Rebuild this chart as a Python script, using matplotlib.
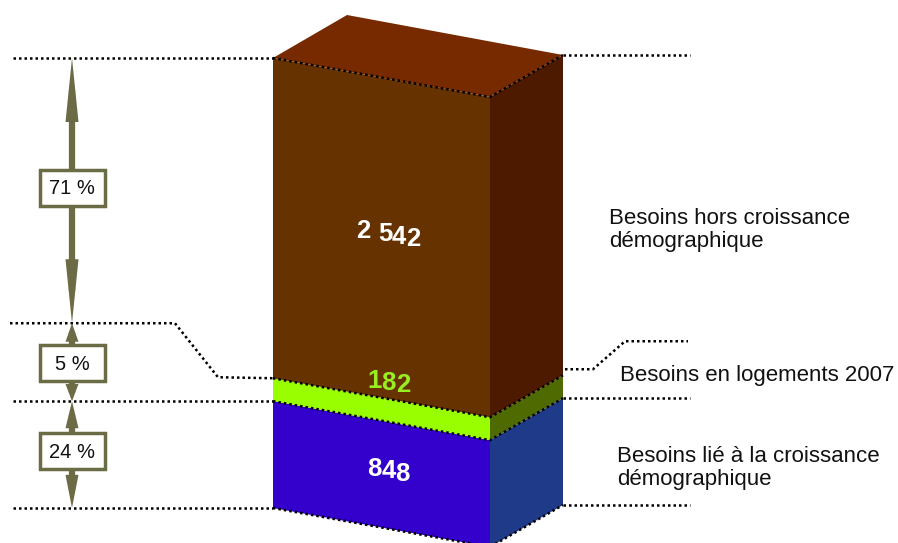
import numpy as np
import matplotlib
matplotlib.use("Agg")
import matplotlib.pyplot as plt
from matplotlib.patches import Polygon, Rectangle
from matplotlib.font_manager import FontProperties

# Data (bottom to top)
labels = ["Besoins lié à la croissance\ndémographique",
          "Besoins en logements 2007",
          "Besoins hors croissance\ndémographique"]
values = [848, 182, 2542]
value_text = ["848", "182", "2 542"]
pct = [24, 5, 71]

front_cols = ["#3300cc", "#99ff00", "#663300"]
side_cols = ["#1f3a88", "#4e6a00", "#4d1a00"]
top_col = "#772a00"
val_cols = ["white", "#99ee22", "white"]
olive = "#6b6b45"

# geometry of the box in pixel units
x0, x1, x2 = 273, 490, 563
dy_front, dy_side = 39, -42
y_top, y_bot = 58, 508
H = y_bot - y_top

total = sum(values)
cum = np.concatenate([[0], np.cumsum(values)])
ybounds = y_bot - cum / total * H   # bottom->top boundaries on left edge

bold_fp = FontProperties(family="Liberation Sans", weight="bold", size=18.5)

fig = plt.figure(figsize=(8.98, 5.43), dpi=100)
ax = fig.add_axes([0, 0, 1, 1])
ax.set_xlim(0, 898)
ax.set_ylim(543, 0)
ax.set_axis_off()
renderer = fig.canvas.get_renderer()

dot = dict(color="black", linestyle=(0, (1, 1.2)), linewidth=1.8)

for i in range(len(values)):
    yb, yt = ybounds[i], ybounds[i + 1]
    front = [(x0, yb), (x0, yt), (x1, yt + dy_front), (x1, yb + dy_front)]
    side = [(x1, yb + dy_front), (x1, yt + dy_front),
            (x2, yt + dy_front + dy_side), (x2, yb + dy_front + dy_side)]
    ax.add_patch(Polygon(front, closed=True, facecolor=front_cols[i], edgecolor="none", zorder=2))
    ax.add_patch(Polygon(side, closed=True, facecolor=side_cols[i], edgecolor="none", zorder=2))

# top face
top = [(x0, y_top), (x0 + 74, y_top - 43), (x2, y_top + dy_front + dy_side), (x1, y_top + dy_front)]
ax.add_patch(Polygon(top, closed=True, facecolor=top_col, edgecolor="none", zorder=2))

# dotted edges of the box
for yy in ybounds:
    ax.plot([x0, x1, x2], [yy, yy + dy_front, yy + dy_front + dy_side], zorder=3, **dot)


def text_w(s):
    t = ax.text(0, 0, s, fontproperties=bold_fp)
    w = t.get_window_extent(renderer).width
    t.remove()
    return w


def sheared_label(xc, yc, s, color, slope=0.16):
    # upright glyphs whose baseline follows the slant of the front face
    total_w = text_w(s)
    left = xc - total_w / 2
    base = yc + 0.36 * bold_fp.get_size_in_points() * 100 / 72
    for k, ch in enumerate(s):
        if ch == " ":
            continue
        w = text_w(ch)
        cx = left + text_w(s[:k + 1]) - w / 2
        ax.text(cx, base + slope * (cx - xc), ch, color=color, fontproperties=bold_fp,
                ha="center", va="baseline", zorder=4)


# value labels
for i in range(len(values)):
    yb, yt = ybounds[i], ybounds[i + 1]
    xc = (x0 + x1) / 2 + 7
    if yb - yt > 60:
        yc = (yb + yt) / 2 + dy_front / 2 - 5
    else:
        yc = yt + dy_front / 2 - 17
    sheared_label(xc, yc, value_text[i], val_cols[i])

# left guide lines
ax.plot([13, x0], [ybounds[0]] * 2, zorder=3, **dot)
ax.plot([13, x0], [ybounds[1]] * 2, zorder=3, **dot)
ax.plot([13, x0], [ybounds[3]] * 2, zorder=3, **dot)
y5 = ybounds[2] - 55
ax.plot([10, 175, 218, x0], [y5, y5, ybounds[2] - 1, ybounds[2]], zorder=3, **dot)

# right guide lines
for k in [0, 1, 3]:
    yy = ybounds[k] + dy_front + dy_side
    ax.plot([x2, 690], [yy, yy], zorder=3, **dot)
yr = ybounds[2] + dy_front + dy_side - 6
ax.plot([x2 + 2, 593, 625, 688], [yr, yr, yr - 28, yr - 28], zorder=3, **dot)

# percentage arrows
ax_x = 72
stops = [ybounds[3], y5, ybounds[1], ybounds[0]]  # top, 5% line, 24% line, bottom
box_h = 36


def half_arrow(y_from, y_to):
    length = abs(y_to - y_from)
    hl = min(64, 0.85 * length)
    s = np.sign(y_to - y_from)
    ax.plot([ax_x, ax_x], [y_from, y_to - s * hl * 0.5], color=olive, linewidth=4.5,
            solid_capstyle="butt", zorder=3)
    ax.add_patch(Polygon([(ax_x - 6.5, y_to - s * hl), (ax_x + 6.5, y_to - s * hl), (ax_x, y_to)],
                         closed=True, facecolor=olive, edgecolor="none", zorder=3))


pct_order = [pct[2], pct[1], pct[0]]
box_centers = [188, 363, 451]
for j in range(3):
    ya, yb = stops[j], stops[j + 1]
    yc = box_centers[j]
    half_arrow(yc - box_h / 2, ya)
    half_arrow(yc + box_h / 2, yb)
    ax.add_patch(Rectangle((40, yc - box_h / 2), 65, box_h, facecolor="white",
                           edgecolor=olive, linewidth=2.5, zorder=4))
    ax.text(ax_x, yc + 1, f"{pct_order[j]} %", fontsize=14.5, ha="center", va="center",
            color="#111111", zorder=5, family="Liberation Sans")

# category labels on the right
ax.text(609, 230, labels[2], fontsize=16, ha="left", va="center", color="#111111",
        linespacing=1.1, family="Liberation Sans")
ax.text(620, 375, labels[1], fontsize=16, ha="left", va="center", color="#111111",
        family="Liberation Sans")
ax.text(617, 468, labels[0], fontsize=16, ha="left", va="center", color="#111111",
        linespacing=1.1, family="Liberation Sans")

fig.savefig("out.png", dpi=100, facecolor="white")
